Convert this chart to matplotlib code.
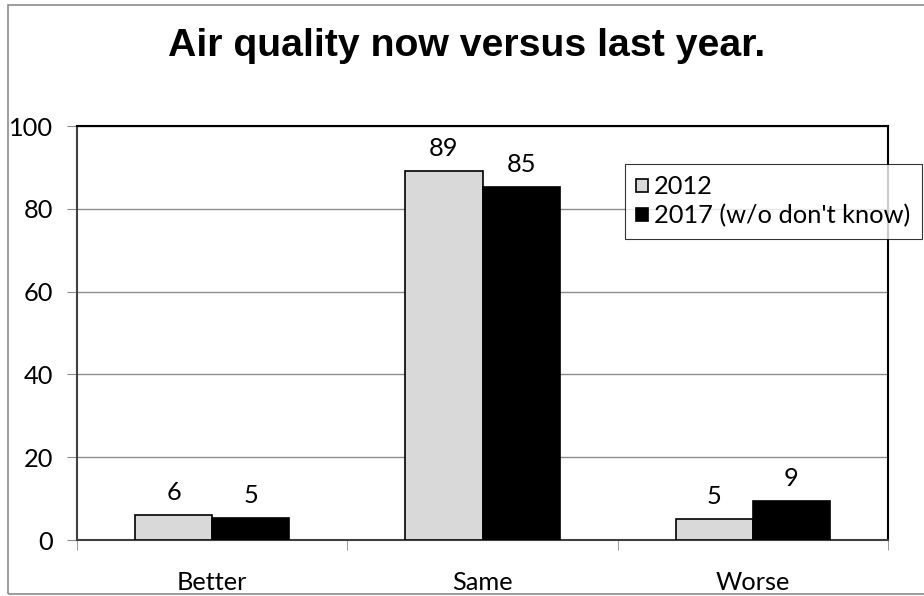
import matplotlib
matplotlib.use("Agg")
import matplotlib.pyplot as plt
from matplotlib.patches import Rectangle
import numpy as np

categories = ["Better", "Same", "Worse"]
series_names = ["2012", "2017 (w/o don't know)"]
values_2012 = [6.0, 89.1, 5.0]
values_2017 = [5.4, 85.3, 9.4]
labels_2012 = ["6", "89", "5"]
labels_2017 = ["5", "85", "9"]
yticks = [0, 20, 40, 60, 80, 100]

W, H = 924, 596
fig = plt.figure(figsize=(W / 100, H / 100), dpi=100)
fig.patch.set_facecolor("white")

# outer chart border
fig.add_artist(Rectangle((8 / W, 1 - 594 / H), (W + 10) / W, (594 - 5) / H,
                         transform=fig.transFigure, fill=False,
                         edgecolor="#8c8c8c", linewidth=1.2))

ax = fig.add_axes([77 / W, 1 - 540 / H, (888 - 77) / W, (540 - 126) / H])

font = "Lato"
fs = 18.3

x = np.arange(len(categories))
bw = 0.285
b1 = ax.bar(x - bw / 2, values_2012, bw, color="#d9d9d9", edgecolor="black",
            linewidth=1.2, label=series_names[0], zorder=3)
b2 = ax.bar(x + bw / 2, values_2017, bw, color="black", edgecolor="black",
            linewidth=1.2, label=series_names[1], zorder=3)

for rects, labs in ((b1, labels_2012), (b2, labels_2017)):
    for r, lab in zip(rects, labs):
        ax.annotate(lab, (r.get_x() + r.get_width() / 2, r.get_height()),
                    xytext=(0, 8), textcoords="offset points",
                    ha="center", va="bottom", fontsize=fs, family=font)

ax.set_xlim(-0.5, 2.5)
ax.set_ylim(0, 100)
ax.set_yticks(yticks)
ax.set_yticklabels([str(v) for v in yticks], fontsize=fs, family=font)
ax.yaxis.grid(True, color="#8c8c8c", linewidth=1.0, zorder=0)
ax.set_axisbelow(True)

ax.set_xticks(x)
ax.set_xticklabels(categories, fontsize=fs, family=font)
ax.set_xticks([-0.5, 0.5, 1.5, 2.5], minor=True)
ax.tick_params(axis="x", which="major", length=0, pad=22)
ax.tick_params(axis="x", which="minor", length=7, color="#8c8c8c", direction="out")
ax.tick_params(axis="y", length=7, color="#8c8c8c", direction="out", pad=10)

for s in ("top", "right"):
    ax.spines[s].set_color("black")
    ax.spines[s].set_linewidth(1.5)
for s in ("left", "bottom"):
    ax.spines[s].set_color("#404040")
    ax.spines[s].set_linewidth(1.5)

leg = fig.legend(handles=[b1, b2], labels=series_names,
                 loc="upper left", bbox_to_anchor=(625 / W, 1 - 164 / H),
                 bbox_transform=fig.transFigure,
                 prop={"family": font, "size": fs}, frameon=True, fancybox=False,
                 edgecolor="black", handlelength=0.45, handleheight=0.45,
                 handletextpad=0.25, borderpad=0.45, labelspacing=0.23,
                 borderaxespad=0)
leg.get_frame().set_linewidth(0.8)

fig.text(467 / W, 1 - 46 / H, "Air quality now versus last year.",
         ha="center", va="center", fontsize=28.3, fontweight="bold",
         family="Liberation Sans")

fig.savefig("out.png", dpi=100)
